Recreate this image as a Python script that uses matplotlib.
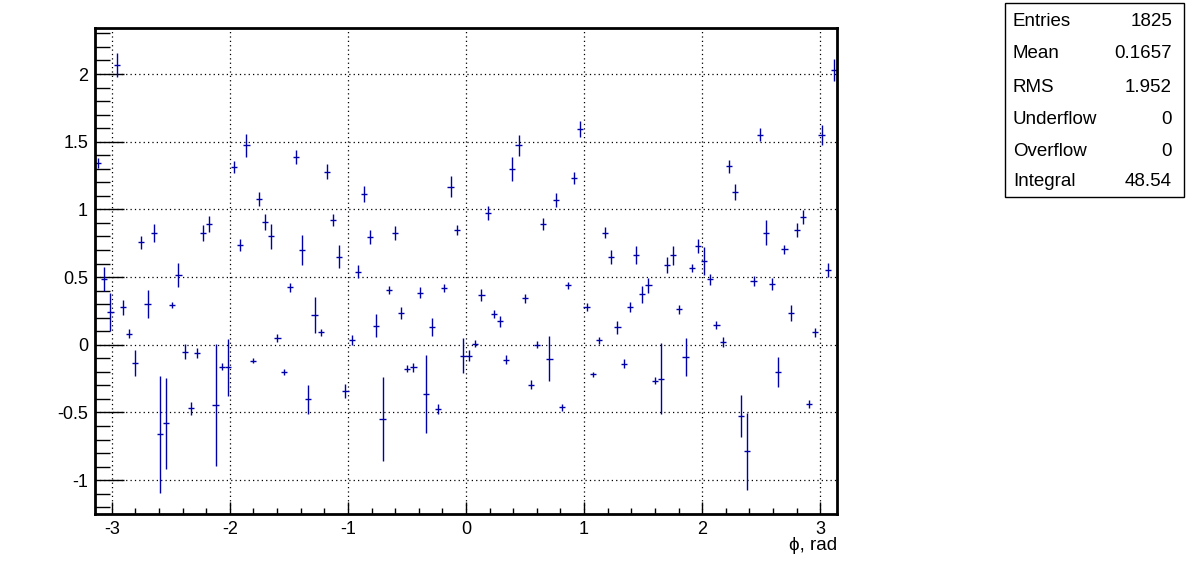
import numpy as np
import matplotlib
matplotlib.use("Agg")
import matplotlib.pyplot as plt
from matplotlib.patches import Rectangle
from matplotlib.ticker import MultipleLocator

plt.rcParams['font.family'] = ['Liberation Sans', 'DejaVu Sans']

n_bins = 120
values = [
    1.343, 0.485, 0.245, 2.066, 0.277, 0.081, -0.132, 0.757, 0.301, 0.826,
    -0.662, -0.578, 0.294, 0.515, -0.051, -0.470, -0.059, 0.826, 0.892, -0.446,
    -0.162, -0.167, 1.314, 0.735, 1.473, -0.118, 1.074, 0.907, 0.801, 0.051,
    -0.201, 0.424, 1.387, 0.701, -0.404, 0.221, 0.091, 1.279, 0.922, 0.652,
    -0.343, 0.034, 0.539, 1.115, 0.797, 0.142, -0.551, 0.402, 0.828, 0.235,
    -0.176, -0.167, 0.385, -0.365, 0.132, -0.478, 0.419, 1.169, 0.846, -0.081,
    -0.081, 0.007, 0.368, 0.971, 0.230, 0.172, -0.110, 1.299, 1.473, 0.343,
    -0.294, 0.002, 0.895, -0.103, 1.069, -0.463, 0.439, 1.233, 1.591, 0.277,
    -0.218, 0.032, 0.828, 0.650, 0.130, -0.140, 0.277, 0.662, 0.373, 0.441,
    -0.265, -0.250, 0.588, 0.662, 0.262, -0.088, 0.566, 0.730, 0.620, 0.485,
    0.147, 0.020, 1.319, 1.127, -0.527, -0.787, 0.468, 1.551, 0.828, 0.449,
    -0.201, 0.706, 0.235, 0.848, 0.946, -0.436, 0.093, 1.549, 0.551, 2.029,
]
errors = [
    0.037, 0.086, 0.140, 0.090, 0.054, 0.034, 0.095, 0.047, 0.105, 0.065,
    0.430, 0.336, 0.025, 0.088, 0.055, 0.049, 0.037, 0.061, 0.057, 0.450,
    0.027, 0.210, 0.043, 0.044, 0.085, 0.020, 0.051, 0.060, 0.093, 0.027,
    0.025, 0.034, 0.049, 0.108, 0.105, 0.132, 0.027, 0.056, 0.045, 0.083,
    0.051, 0.037, 0.047, 0.059, 0.051, 0.086, 0.311, 0.029, 0.051, 0.042,
    0.027, 0.034, 0.042, 0.288, 0.066, 0.037, 0.027, 0.076, 0.037, 0.130,
    0.040, 0.025, 0.042, 0.051, 0.029, 0.037, 0.034, 0.088, 0.076, 0.031,
    0.032, 0.028, 0.045, 0.165, 0.049, 0.027, 0.027, 0.045, 0.059, 0.029,
    0.018, 0.025, 0.039, 0.050, 0.047, 0.034, 0.037, 0.066, 0.063, 0.055,
    0.025, 0.265, 0.061, 0.071, 0.031, 0.141, 0.031, 0.049, 0.103, 0.040,
    0.028, 0.037, 0.047, 0.061, 0.157, 0.284, 0.037, 0.048, 0.091, 0.043,
    0.108, 0.033, 0.056, 0.049, 0.051, 0.031, 0.033, 0.071, 0.054, 0.083,
]

stat_names = ["Entries", "Mean", "RMS", "Underflow", "Overflow", "Integral"]
stat_values = ["1825", "0.1657", "1.952", "0", "0", "48.54"]

x_label = "ϕ, rad"

edges = np.linspace(-np.pi, np.pi, n_bins + 1)
centers = 0.5 * (edges[:-1] + edges[1:])
half_w = 0.5 * (edges[1] - edges[0])

fig = plt.figure(figsize=(11.96, 5.72), dpi=100)
ax = fig.add_axes([95 / 1196, 1 - 514 / 572, (837 - 95) / 1196, (514 - 28) / 572])

color = '#0000a8'
ax.errorbar(centers, values, yerr=errors, xerr=half_w, fmt='none',
            ecolor=color, elinewidth=1.0, capsize=0)

ax.set_xlim(-np.pi, np.pi)
ax.set_ylim(-1.25, 2.34)

ax.xaxis.set_major_locator(MultipleLocator(1))
ax.xaxis.set_minor_locator(MultipleLocator(0.2))
ax.yaxis.set_major_locator(MultipleLocator(0.5))
ax.yaxis.set_minor_locator(MultipleLocator(0.1))

ax.tick_params(axis='x', which='major', direction='in', length=9, width=1, labelsize=13, pad=5,
               top=False)
ax.tick_params(axis='x', which='minor', direction='in', length=4.5, width=1, top=False)
ax.tick_params(axis='y', which='major', direction='in', length=21, width=1, labelsize=13, pad=5,
               right=False)
ax.tick_params(axis='y', which='minor', direction='in', length=10.5, width=1, right=False)

ax.set_xticks([-3, -2, -1, 0, 1, 2, 3])
ax.set_xticklabels(["-3", "-2", "-1", "0", "1", "2", "3"])
ax.set_yticks([-1, -0.5, 0, 0.5, 1, 1.5, 2])
ax.set_yticklabels(["-1", "-0.5", "0", "0.5", "1", "1.5", "2"])

ax.grid(True, which='major', linestyle=(0, (1, 2.5)), color='black', linewidth=0.9)
for sp in ax.spines.values():
    sp.set_linewidth(2.0)

fig.text(837 / 1196, 1 - 545 / 572, x_label, ha='right', va='center', fontsize=13.5)

# stats box
bx0, bx1, by0, by1 = 1005, 1184, 3, 197
fig.patches.append(Rectangle((bx0 / 1196, 1 - by1 / 572), (bx1 - bx0) / 1196, (by1 - by0) / 572,
                             transform=fig.transFigure, fill=True, facecolor='white',
                             edgecolor='black', linewidth=1.0))
row_y = [22, 54, 87, 119, 151, 182]
for name, val, yy in zip(stat_names, stat_values, row_y):
    fig.text(1013 / 1196, 1 - yy / 572, name, ha='left', va='center', fontsize=13.5)
    fig.text(1172 / 1196, 1 - yy / 572, val, ha='right', va='center', fontsize=13.5)

fig.savefig("out.png", dpi=100)
